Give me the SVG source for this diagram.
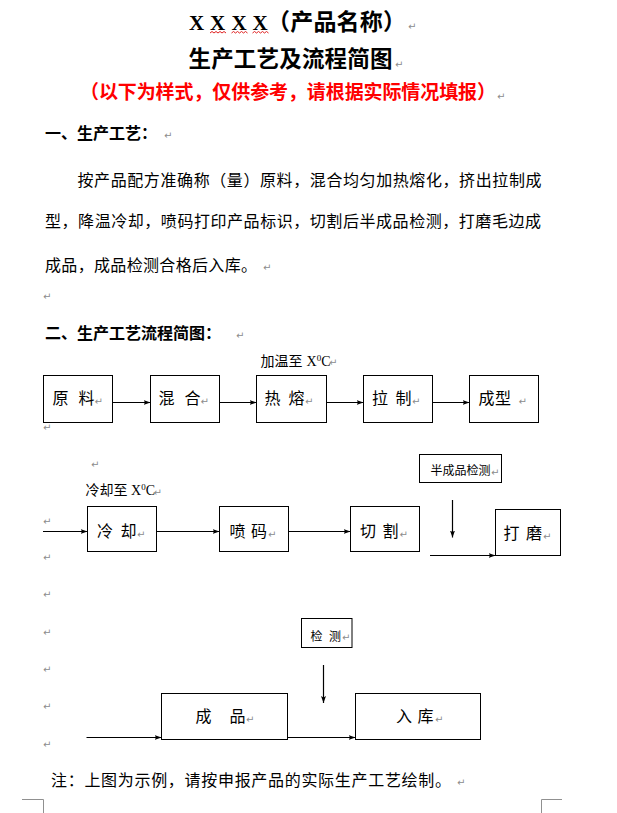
<svg xmlns="http://www.w3.org/2000/svg" width="617" height="813" viewBox="0 0 617 813">
<style>
.cn{font-family:"Noto Sans CJK SC","Noto Sans",sans-serif;fill:#000}
.b{font-weight:700}
.tnr{font-family:"Liberation Serif",serif;fill:#000}
.pm{font-family:"DejaVu Sans",sans-serif;font-size:10px;fill:#8c8c8c}
.box{fill:#fff;stroke:#000;stroke-width:1}
.con{stroke:#000;stroke-width:1.2;fill:none}
.wavy{stroke:#e02020;stroke-width:1;fill:none}
.corner{stroke:#909090;stroke-width:1;fill:none}
</style>
<defs>
<marker id="ah" markerUnits="userSpaceOnUse" markerWidth="8" markerHeight="6" refX="7" refY="3" orient="auto">
<path d="M0,0.5 L7,3 L0,5.5 L1.5,3 z" fill="#000"/>
</marker>
</defs>
<rect width="617" height="813" fill="#fff"/>

<g id="header">
<text class="tnr b" font-size="21" y="29.5"><tspan x="189">X</tspan><tspan x="210">X</tspan><tspan x="231.5">X</tspan><tspan x="252.5">X</tspan></text>
<text class="cn b" font-size="23" x="267" y="30" textLength="139" lengthAdjust="spacing">（产品名称）</text>
<text class="pm" x="408" y="30">↵</text>
<path class="wavy" d="M210,33 l2,-1.5 l2,1.5 l2,-1.5 l2,1.5 l2,-1.5 l2,1.5 l2,-1.5 l2,1.5 M231.5,33 l2,-1.5 l2,1.5 l2,-1.5 l2,1.5 l2,-1.5 l2,1.5 l2,-1.5 l2,1.5 M252.5,33 l2,-1.5 l2,1.5 l2,-1.5 l2,1.5 l2,-1.5 l2,1.5 l2,-1.5 l2,1.5"/>
<text class="cn b" font-size="22.5" x="188.5" y="67" textLength="204" lengthAdjust="spacing">生产工艺及流程简图</text>
<text class="pm" x="395" y="68">↵</text>
<text class="cn b" font-size="19" x="80" y="98.5" textLength="416" lengthAdjust="spacing" style="fill:#ff0000">（以下为样式，仅供参考，请根据实际情况填报）</text>
<text class="pm" x="497" y="100">↵</text>
</g>

<g id="section1">
<text class="cn b" font-size="16" x="45" y="138.5">一、生产工艺：</text>
<text class="pm" x="164" y="139">↵</text>
<text class="cn" font-size="16" x="77.5" y="185.5" textLength="464" lengthAdjust="spacing">按产品配方准确称（量）原料，混合均匀加热熔化，挤出拉制成</text>
<text class="cn" font-size="16" x="45" y="226.5" textLength="496" lengthAdjust="spacing">型，降温冷却，喷码打印产品标识，切割后半成品检测，打磨毛边成</text>
<text class="cn" font-size="16" x="45" y="270.5" textLength="212" lengthAdjust="spacing">成品，成品检测合格后入库。</text>
<text class="pm" x="263" y="271">↵</text>
<text class="pm" x="43" y="299.5">↵</text>
</g>

<g id="section2">
<text class="cn b" font-size="16" x="45" y="338.5">二、生产工艺流程简图：</text>
<text class="pm" x="236" y="339">↵</text>
</g>

<g id="connectors">
<line class="con" x1="112.5" y1="402.5" x2="150.5" y2="402.5" marker-end="url(#ah)"/>
<line class="con" x1="219.5" y1="402.5" x2="256.5" y2="402.5" marker-end="url(#ah)"/>
<line class="con" x1="326.5" y1="402.5" x2="363.5" y2="402.5" marker-end="url(#ah)"/>
<line class="con" x1="432.5" y1="402.5" x2="469.5" y2="402.5" marker-end="url(#ah)"/>
<line class="con" x1="43" y1="531.5" x2="87.5" y2="531.5" marker-end="url(#ah)"/>
<line class="con" x1="156.5" y1="531.5" x2="219.5" y2="531.5" marker-end="url(#ah)"/>
<line class="con" x1="288.5" y1="531.5" x2="350.5" y2="531.5" marker-end="url(#ah)"/>
<line class="con" x1="452.5" y1="500" x2="452.5" y2="537.5" marker-end="url(#ah)"/>
<line class="con" x1="430" y1="555.5" x2="495.5" y2="555.5" marker-end="url(#ah)"/>
<line class="con" x1="323.5" y1="665" x2="323.5" y2="703" marker-end="url(#ah)"/>
<line class="con" x1="86.5" y1="737.5" x2="161.5" y2="737.5" marker-end="url(#ah)"/>
<line class="con" x1="287.5" y1="737.5" x2="355.5" y2="737.5" marker-end="url(#ah)"/>
</g>

<g id="label-heat">
<text class="cn" font-size="14" y="365.5"><tspan x="260.5" textLength="42">加温至</tspan></text>
<text class="tnr" font-size="14" x="306.5" y="365.5">X<tspan font-size="9" dy="-5">0</tspan><tspan dy="5">C</tspan></text>
<text class="pm" x="329" y="366">↵</text>
</g>

<g id="n-yuanliao">
<rect class="box" x="43.5" y="375.5" width="69" height="47"/>
<text class="cn" font-size="16" x="52.5 78.5" y="404">原料</text>
<text class="pm" x="94.5" y="404.5">↵</text>
</g>
<text class="pm" x="43" y="431">↵</text>
<g id="n-hunhe">
<rect class="box" x="150.5" y="375.5" width="69" height="47"/>
<text class="cn" font-size="16" x="158.5 184.5" y="404">混合</text>
<text class="pm" x="200.5" y="404.5">↵</text>
</g>
<g id="n-rerong">
<rect class="box" x="256.5" y="375.5" width="70" height="47"/>
<text class="cn" font-size="16" x="264.5 288.5" y="404">热熔</text>
<text class="pm" x="305" y="404.5">↵</text>
</g>
<g id="n-lazhi">
<rect class="box" x="363.5" y="375.5" width="69" height="47"/>
<text class="cn" font-size="16" x="372 395.5" y="404">拉制</text>
<text class="pm" x="412" y="404.5">↵</text>
</g>
<g id="n-chengxing">
<rect class="box" x="469.5" y="375.5" width="69" height="47"/>
<text class="cn" font-size="16" x="478.5 495" y="404">成型</text>
<text class="pm" x="518.5" y="404.5">↵</text>
</g>

<text class="pm" x="91" y="467.5">↵</text>
<g id="label-cool">
<text class="cn" font-size="14" y="495"><tspan x="85.5" textLength="42">冷却至</tspan></text>
<text class="tnr" font-size="14" x="131" y="495">X<tspan font-size="9" dy="-5">0</tspan><tspan dy="5">C</tspan></text>
<text class="pm" x="153.5" y="495.5">↵</text>
</g>
<text class="pm" x="43" y="524.5">↵</text>
<text class="pm" x="43" y="561">↵</text>

<g id="n-lengque">
<rect class="box" x="87.5" y="506.5" width="69" height="45"/>
<text class="cn" font-size="16" x="97 120.5" y="537">冷却</text>
<text class="pm" x="137" y="537.5">↵</text>
</g>
<g id="n-penma">
<rect class="box" x="219.5" y="506.5" width="69" height="45"/>
<text class="cn" font-size="16" x="229.5 251" y="537">喷码</text>
<text class="pm" x="268" y="537.5">↵</text>
</g>
<g id="n-qiege">
<rect class="box" x="350.5" y="506.5" width="69" height="45"/>
<text class="cn" font-size="16" x="360 382.5" y="537">切割</text>
<text class="pm" x="399.5" y="537.5">↵</text>
</g>
<g id="n-banchengpin">
<rect class="box" x="419.5" y="454.5" width="82" height="28"/>
<text class="cn" font-size="12" x="430.5" y="475" textLength="60" lengthAdjust="spacing">半成品检测</text>
<text class="pm" x="491" y="475.5">↵</text>
</g>
<g id="n-damo">
<rect class="box" x="495.5" y="509.5" width="65" height="46"/>
<text class="cn" font-size="16" x="503.5 526" y="539">打磨</text>
<text class="pm" x="543" y="539.5">↵</text>
</g>

<text class="pm" x="43" y="598">↵</text>
<text class="pm" x="43" y="635.5">↵</text>
<text class="pm" x="43" y="673">↵</text>
<text class="pm" x="43" y="710">↵</text>
<text class="pm" x="43" y="747.5">↵</text>

<g id="n-jiance">
<rect class="box" x="301.5" y="618.5" width="50.5" height="29"/>
<text class="cn" font-size="12" x="310.5 329" y="640.5">检测</text>
<text class="pm" x="342" y="641">↵</text>
</g>
<g id="n-chengpin">
<rect class="box" x="161.5" y="693.5" width="126" height="46"/>
<text class="cn" font-size="16" x="195.5 229.5" y="722">成品</text>
<text class="pm" x="246" y="722.5">↵</text>
</g>
<g id="n-ruku">
<rect class="box" x="355.5" y="693.5" width="125" height="46"/>
<text class="cn" font-size="16" x="396 417.5" y="722">入库</text>
<text class="pm" x="435" y="722.5">↵</text>
</g>

<g id="footer">
<text class="cn" font-size="16" x="51" y="785.5" textLength="400" lengthAdjust="spacing">注：上图为示例，请按申报产品的实际生产工艺绘制。</text>
<text class="pm" x="457" y="786">↵</text>
<path class="corner" d="M22,799.5 H43.5 V813 M562,799.5 H541.5 V813"/>
</g>
</svg>
